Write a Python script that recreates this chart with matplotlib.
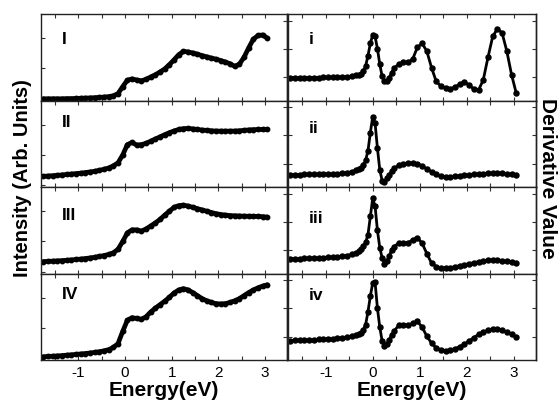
import matplotlib.pyplot as plt
from matplotlib.ticker import MultipleLocator

plt.rcParams["font.family"] = ["Liberation Sans", "DejaVu Sans"]
plt.rcParams["axes.unicode_minus"] = False

# energy grid (eV) of the intensity spectra
energy = [-1.75, -1.65, -1.55, -1.45, -1.35, -1.25, -1.15, -1.05, -0.95, -0.85,
          -0.75, -0.65, -0.55, -0.45, -0.35, -0.25, -0.15, -0.05, 0.05, 0.15,
          0.25, 0.35, 0.45, 0.55, 0.65, 0.75, 0.85, 0.95, 1.05, 1.15,
          1.25, 1.35, 1.45, 1.55, 1.65, 1.75, 1.85, 1.95, 2.05, 2.15,
          2.25, 2.35, 2.45, 2.55, 2.65, 2.75, 2.85, 2.95, 3.05]

intensity_I = [0.02, 0.02, 0.02, 0.02, 0.02, 0.022, 0.022, 0.024, 0.026, 0.028,
               0.03, 0.033, 0.036, 0.04, 0.045, 0.055, 0.08, 0.16, 0.235, 0.25,
               0.237, 0.228, 0.245, 0.272, 0.298, 0.33, 0.365, 0.415, 0.47, 0.53,
               0.567, 0.562, 0.55, 0.535, 0.52, 0.505, 0.49, 0.478, 0.462, 0.445,
               0.425, 0.395, 0.42, 0.5, 0.61, 0.71, 0.752, 0.758, 0.72]
intensity_II = [0.123, 0.127, 0.131, 0.135, 0.14, 0.145, 0.15, 0.155, 0.16, 0.167,
                0.174, 0.182, 0.192, 0.205, 0.22, 0.245, 0.28, 0.37, 0.49, 0.515,
                0.485, 0.49, 0.505, 0.53, 0.555, 0.58, 0.605, 0.628, 0.648, 0.665,
                0.675, 0.677, 0.672, 0.665, 0.659, 0.654, 0.65, 0.647, 0.646, 0.646,
                0.646, 0.647, 0.65, 0.655, 0.66, 0.663, 0.665, 0.665, 0.665]
intensity_III = [0.138, 0.14, 0.143, 0.146, 0.149, 0.153, 0.157, 0.162, 0.167, 0.173,
                 0.18, 0.188, 0.197, 0.208, 0.22, 0.24, 0.28, 0.37, 0.47, 0.505,
                 0.505, 0.49, 0.515, 0.55, 0.585, 0.625, 0.675, 0.72, 0.765, 0.785,
                 0.79, 0.78, 0.765, 0.75, 0.735, 0.72, 0.705, 0.692, 0.682, 0.675,
                 0.67, 0.667, 0.665, 0.663, 0.662, 0.661, 0.66, 0.657, 0.652]
intensity_IV = [0.038, 0.041, 0.044, 0.047, 0.051, 0.056, 0.06, 0.065, 0.07, 0.075,
                0.081, 0.088, 0.096, 0.106, 0.12, 0.145, 0.19, 0.33, 0.46, 0.49,
                0.48, 0.47, 0.5, 0.555, 0.6, 0.64, 0.68, 0.725, 0.775, 0.81,
                0.825, 0.81, 0.78, 0.745, 0.71, 0.685, 0.665, 0.652, 0.648, 0.652,
                0.665, 0.685, 0.71, 0.745, 0.78, 0.81, 0.835, 0.855, 0.87]

# energy grid (eV) of the derivative spectra, finer around the edge
energy_d = [-1.75, -1.65, -1.55, -1.45, -1.35, -1.25, -1.15, -1.05, -0.95, -0.85,
            -0.75, -0.65, -0.55, -0.45, -0.35,
            -0.3, -0.25, -0.2, -0.15, -0.1, -0.05, 0.0, 0.05, 0.1, 0.15,
            0.2, 0.25, 0.3, 0.35, 0.4,
            0.45, 0.55, 0.65, 0.75, 0.85, 0.95, 1.05, 1.15, 1.25, 1.35,
            1.45, 1.55, 1.65, 1.75, 1.85, 1.95, 2.05, 2.15, 2.25, 2.35,
            2.45, 2.55, 2.65, 2.75, 2.85, 2.95, 3.05]

deriv_i = [0.263, 0.263, 0.263, 0.264, 0.264, 0.265, 0.265, 0.266, 0.267, 0.268,
           0.27, 0.272, 0.275, 0.28, 0.29,
           0.297, 0.31, 0.34, 0.4, 0.52, 0.66, 0.76, 0.74, 0.6, 0.42,
           0.28, 0.228, 0.222, 0.26, 0.32,
           0.37, 0.42, 0.44, 0.44, 0.48, 0.615, 0.66, 0.57, 0.38, 0.22,
           0.165, 0.14, 0.137, 0.155, 0.19, 0.215, 0.18, 0.13, 0.12, 0.24,
           0.5, 0.74, 0.83, 0.78, 0.57, 0.3, 0.085]
deriv_ii = [0.142, 0.143, 0.144, 0.145, 0.146, 0.147, 0.148, 0.149, 0.15, 0.152,
            0.155, 0.16, 0.167, 0.176, 0.192,
            0.205, 0.225, 0.255, 0.31, 0.42, 0.63, 0.81, 0.74, 0.45, 0.2,
            0.075, 0.055, 0.1, 0.14, 0.18,
            0.215, 0.25, 0.268, 0.277, 0.277, 0.27, 0.245, 0.21, 0.175, 0.145,
            0.125, 0.117, 0.117, 0.122, 0.128, 0.134, 0.14, 0.146, 0.151, 0.155,
            0.158, 0.16, 0.16, 0.158, 0.153, 0.148, 0.142]
deriv_iii = [0.168, 0.17, 0.172, 0.174, 0.176, 0.178, 0.181, 0.184, 0.187, 0.19,
             0.195, 0.2, 0.208, 0.22, 0.24,
             0.255, 0.28, 0.315, 0.36, 0.45, 0.66, 0.87, 0.78, 0.5, 0.3,
             0.18, 0.115, 0.14, 0.2, 0.27,
             0.31, 0.35, 0.357, 0.355, 0.39, 0.415, 0.35, 0.23, 0.12, 0.08,
             0.065, 0.062, 0.068, 0.078, 0.09, 0.102, 0.114, 0.125, 0.135, 0.145,
             0.153, 0.158, 0.157, 0.15, 0.14, 0.13, 0.122]
deriv_iv = [0.225, 0.226, 0.228, 0.23, 0.232, 0.234, 0.237, 0.24, 0.243, 0.246,
            0.25, 0.256, 0.264, 0.275, 0.29,
            0.3, 0.315, 0.345, 0.41, 0.56, 0.74, 0.89, 0.9, 0.6, 0.38,
            0.22, 0.165, 0.18, 0.23, 0.29,
            0.33, 0.4, 0.405, 0.4, 0.425, 0.447, 0.38, 0.275, 0.195, 0.14,
            0.115, 0.106, 0.115, 0.13, 0.155, 0.185, 0.22, 0.26, 0.295, 0.325,
            0.345, 0.358, 0.36, 0.345, 0.32, 0.295, 0.265]

left_labels = ["I", "II", "III", "IV"]
right_labels = ["i", "ii", "iii", "iv"]
left_series = [intensity_I, intensity_II, intensity_III, intensity_IV]
right_series = [deriv_i, deriv_ii, deriv_iii, deriv_iv]
left_label_y = [0.7, 0.74, 0.67, 0.76]
right_label_y = [0.7, 0.68, 0.64, 0.74]

fig = plt.figure(figsize=(5.6, 4.05), dpi=100)

# axes geometry in figure fractions
bottom, top = 1 - 360 / 405, 1 - 14 / 405
panel_h = (top - bottom) / 4
col_left = [41 / 560, 288 / 560]
col_width = [246 / 560, 248 / 560]


def style_axes(ax, show_xlabels, left_ticks, right_ticks):
    ax.set_xlim(-1.8, 3.47)
    ax.set_ylim(0, 1)
    ax.xaxis.set_major_locator(MultipleLocator(1))
    ax.xaxis.set_minor_locator(MultipleLocator(0.5))
    ax.tick_params(which="both", direction="in", top=True, bottom=True,
                   labelsize=11, pad=4, width=0.8, color="#333333", length=3)
    ax.set_yticks(left_ticks)
    ax.tick_params(axis="y", left=True, right=False, labelleft=False, length=3)
    sec = ax.secondary_yaxis("right")
    sec.set_yticks(right_ticks)
    sec.tick_params(direction="in", length=3, labelright=False, width=0.8,
                    color="#333333")
    if not show_xlabels:
        ax.tick_params(axis="x", labelbottom=False)
    for sp in ax.spines.values():
        sp.set_linewidth(1.0)
        sp.set_color("#222222")
    sec.spines["right"].set_linewidth(1.0)
    sec.spines["right"].set_color("#222222")


for col in range(2):
    series = left_series if col == 0 else right_series
    labels = left_labels if col == 0 else right_labels
    label_y = left_label_y if col == 0 else right_label_y
    xs = energy if col == 0 else energy_d
    for row in range(4):
        ax = fig.add_axes([col_left[col], top - (row + 1) * panel_h,
                           col_width[col], panel_h])
        if col == 0:
            ax.plot(xs, series[row], color="black", lw=3.4, marker="o",
                    ms=3.2, solid_capstyle="round", solid_joinstyle="round")
        else:
            ax.plot(xs, series[row], color="black", lw=2.0, marker="o",
                    ms=3.6, solid_joinstyle="round")
        ax.text(-1.35, label_y[row], labels[row], fontsize=12.5,
                fontweight="bold", ha="left", va="center")
        if col == 0:
            style_axes(ax, row == 3, [0.02, 0.37, 0.72], [0.27, 0.6, 0.92])
        else:
            style_axes(ax, row == 3, [0.27, 0.6, 0.92], [0.27, 0.6, 0.92])
        if row == 3:
            ax.set_xlabel("Energy(eV)", fontsize=15, fontweight="bold",
                          labelpad=1)

fig.text(23 / 560, 1 - 178 / 405, "Intensity (Arb. Units)", rotation=90,
         fontsize=14.5, fontweight="bold", ha="center", va="center")
fig.text(547 / 560, 1 - 178 / 405, "Derivative Value", rotation=-90,
         fontsize=15, fontweight="bold", ha="center", va="center")

plt.savefig("out.png", dpi=100)
